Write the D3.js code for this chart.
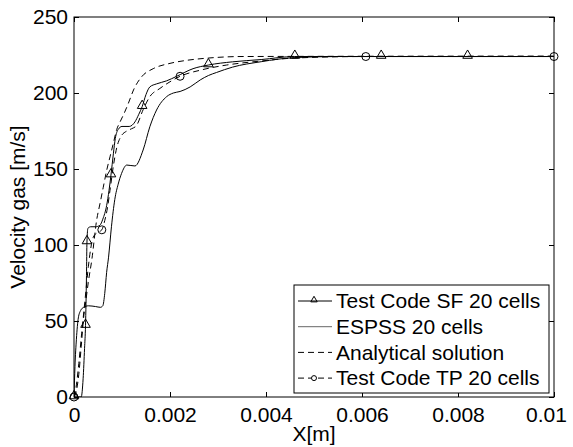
<!DOCTYPE html>
<html>
<head>
<meta charset="utf-8">
<script src="https://cdn.jsdelivr.net/npm/d3@7"></script>
<style>
  body { margin: 0; background: #fff; }
  svg { display: block; font-family: "Liberation Sans", Arial, sans-serif; }
</style>
</head>
<body>
<div class="chart"></div>
<script>
// tick values
var xTicks = [0, 0.002, 0.004, 0.006, 0.008, 0.01];
var yTicks = [0, 50, 100, 150, 200, 250];

// Test Code SF 20 cells (solid + triangles)
var sfX = [0, 0.00015, 0.00019, 0.00022, 0.00024, 0.00026, 0.00027, 0.00029, 0.00035, 0.00045, 0.00054, 0.0006, 0.00068, 0.00073, 0.00077, 0.00082, 0.00086, 0.00092, 0.001, 0.00115, 0.00127, 0.00135, 0.00142, 0.0015, 0.00158, 0.00172, 0.00193, 0.00214, 0.00248, 0.0028, 0.0033, 0.0039, 0.0046, 0.006, 0.01];
var sfV = [0, 0, 12, 32, 47, 80, 102, 111, 112, 112, 113, 117, 126, 136, 146, 160, 170, 176, 178, 178, 181, 186, 191, 199, 204, 206, 208, 211, 216, 218.4, 220.5, 222, 224, 224, 224];
var sfMarkX = [0, 0.00024, 0.00027, 0.00077, 0.00142, 0.0028, 0.0046, 0.0064, 0.0082];
var sfMarkV = [0, 47, 102, 146, 191, 218.4, 224, 224, 224];

// ESPSS 20 cells (solid)
var esX = [0, 0.00002, 0.00005, 0.00009, 0.00014, 0.0002, 0.0003, 0.00045, 0.00055, 0.0006, 0.00064, 0.00068, 0.00072, 0.00078, 0.00085, 0.00092, 0.00099, 0.0011, 0.00127, 0.00144, 0.00158, 0.00172, 0.00193, 0.00207, 0.00221, 0.00242, 0.00263, 0.0028, 0.00297, 0.0033, 0.0039, 0.0046, 0.0055, 0.01];
var esV = [0, 20, 38, 52, 57, 59, 60, 59.5, 59, 60, 68, 82, 92, 112, 130, 140, 147, 152.6, 152, 162.5, 177.8, 188.8, 197.6, 200, 201, 204, 208.6, 211.5, 213.5, 217, 220.6, 223.3, 224, 224];

// Analytical solution (dashed)
var anX = [0, 0.00005, 0.0001, 0.00015, 0.0002, 0.00025, 0.0003, 0.00037, 0.00047, 0.00054, 0.00061, 0.00068, 0.00075, 0.00082, 0.00089, 0.00096, 0.00105, 0.00113, 0.00124, 0.00141, 0.00165, 0.002, 0.00235, 0.0028, 0.0035, 0.01];
var anV = [0, 4, 15, 33, 52, 64, 76, 90, 116, 127, 138, 149, 158, 167, 176, 181, 187, 193, 202, 210.7, 216, 219.5, 221.5, 223, 224, 224.3];

// Test Code TP 20 cells (dashed + circles)
var tpX = [0, 0.00005, 0.0001, 0.00016, 0.00023, 0.0003, 0.00035, 0.0004, 0.00048, 0.00058, 0.00064, 0.0007, 0.00075, 0.00082, 0.00089, 0.00097, 0.0011, 0.0012, 0.0013, 0.00144, 0.00158, 0.00179, 0.002, 0.00221, 0.00263, 0.00318, 0.00388, 0.0046, 0.00608, 0.01];
var tpV = [0, 8, 22, 42, 64, 86, 98, 105, 108, 110, 116, 125, 136, 152, 164, 171, 175, 176.5, 178.5, 189, 197.6, 203, 207.4, 211, 215, 218.4, 221, 223, 224, 224];
var tpMarkX = [0, 0.00058, 0.00221, 0.00608, 0.01];
var tpMarkV = [0, 110, 211, 224, 224];

var legendNames = ["Test Code SF 20 cells", "ESPSS 20 cells", "Analytical solution", "Test Code TP 20 cells"];

var margin = { top: 17, right: 19, bottom: 50, left: 74 },
    W = 573, H = 447,
    width = W - margin.left - margin.right,
    height = H - margin.top - margin.bottom;

var FONT = "21px";

var svg = d3.select(".chart").append("svg")
    .attr("width", W)
    .attr("height", H)
    .append("g")
    .attr("transform", "translate(" + margin.left + "," + margin.top + ")");

var x = d3.scaleLinear().domain([0, 0.01]).range([0, width]);
var y = d3.scaleLinear().domain([0, 250]).range([height, 0]);

svg.append("clipPath").attr("id", "clip")
    .append("rect").attr("width", width).attr("height", height);

// axes, matlab style: inward ticks on all four sides
var fmt = function(d) { return d === 0 ? "0" : String(+d.toFixed(3)); };

var xAxis = svg.append("g")
    .attr("transform", "translate(0," + height + ")")
    .call(d3.axisBottom(x).tickValues(xTicks).tickSize(-5).tickPadding(10).tickFormat(fmt));
var yAxis = svg.append("g")
    .call(d3.axisLeft(y).tickValues(yTicks).tickSize(-5).tickPadding(6));
svg.append("g")
    .call(d3.axisTop(x).tickValues(xTicks).tickSize(-5).tickFormat(""));
svg.append("g")
    .attr("transform", "translate(" + width + ",0)")
    .call(d3.axisRight(y).tickValues(yTicks).tickSize(-5).tickFormat(""));

svg.selectAll(".domain").remove();
svg.selectAll(".tick line").attr("stroke", "#000");
svg.selectAll(".tick text")
    .attr("fill", "#000")
    .style("font-size", FONT)
    .style("font-family", "'Liberation Sans', Arial, sans-serif");
xAxis.selectAll(".tick text").attr("dy", "0.71em");
// last label pulled in so it stays inside the figure, as in the original
xAxis.selectAll(".tick text")
    .filter(function(d) { return d === 0.01; })
    .attr("dx", -8);

svg.append("rect")
    .attr("width", width)
    .attr("height", height)
    .attr("fill", "none")
    .attr("stroke", "#000")
    .attr("stroke-width", 1);

svg.append("text")
    .attr("x", width / 2)
    .attr("y", height + 44)
    .attr("text-anchor", "middle")
    .style("font-size", FONT)
    .text("X[m]");

svg.append("text")
    .attr("transform", "translate(" + (25 - margin.left) + "," + (height / 2) + ") rotate(-90)")
    .attr("text-anchor", "middle")
    .style("font-size", FONT)
    .text("Velocity gas [m/s]");

// curves
var line = d3.line()
    .x(function(d) { return x(d[0]); })
    .y(function(d) { return y(d[1]); })
    .curve(d3.curveMonotoneX);

function pairs(xs, vs) {
    return xs.map(function(v, i) { return [v, vs[i]]; });
}

var series = [
    { pts: pairs(sfX, sfV), dash: null },
    { pts: pairs(esX, esV), dash: null },
    { pts: pairs(anX, anV), dash: "6,4" },
    { pts: pairs(tpX, tpV), dash: "6,4" }
];

var plot = svg.append("g");
series.forEach(function(s) {
    plot.append("path")
        .datum(s.pts)
        .attr("clip-path", "url(#clip)")
        .attr("d", line)
        .attr("fill", "none")
        .attr("stroke", "#000")
        .attr("stroke-width", 1)
        .attr("stroke-dasharray", s.dash);
});

var tri = d3.symbol().type(d3.symbolTriangle).size(40);

plot.selectAll(".tri")
    .data(pairs(sfMarkX, sfMarkV))
    .enter().append("path")
    .attr("d", tri)
    .attr("transform", function(d) { return "translate(" + x(d[0]) + "," + (y(d[1]) - 1) + ")"; })
    .attr("fill", "none")
    .attr("stroke", "#000");

plot.selectAll(".circ")
    .data(pairs(tpMarkX, tpMarkV))
    .enter().append("circle")
    .attr("cx", function(d) { return x(d[0]); })
    .attr("cy", function(d) { return y(d[1]); })
    .attr("r", 4)
    .attr("fill", "none")
    .attr("stroke", "#000");

// legend
var lg = svg.append("g")
    .attr("transform", "translate(" + (294 - margin.left) + "," + (285 - margin.top) + ")");

lg.append("rect")
    .attr("width", 255)
    .attr("height", 108)
    .attr("fill", "#fff")
    .attr("stroke", "#000");

var rows = lg.selectAll(".legend")
    .data(legendNames)
    .enter().append("g")
    .attr("transform", function(d, i) { return "translate(0," + (16 + i * 25.7) + ")"; });

rows.append("line")
    .attr("x1", 4).attr("x2", 38)
    .attr("stroke", "#000")
    .attr("stroke-dasharray", function(d, i) { return i >= 2 ? "6,4" : null; })
    .attr("stroke-opacity", function(d, i) { return i === 1 ? 0.6 : 1; });

rows.filter(function(d, i) { return i === 0; })
    .append("path")
    .attr("d", d3.symbol().type(d3.symbolTriangle).size(18))
    .attr("transform", "translate(20,-1)")
    .attr("fill", "none")
    .attr("stroke", "#000");

rows.filter(function(d, i) { return i === 3; })
    .append("circle")
    .attr("cx", 20).attr("r", 2.5)
    .attr("fill", "#fff")
    .attr("stroke", "#000");

rows.append("text")
    .attr("x", 42)
    .attr("dy", "0.35em")
    .style("font-size", FONT)
    .text(function(d) { return d; });
</script>
</body>
</html>
